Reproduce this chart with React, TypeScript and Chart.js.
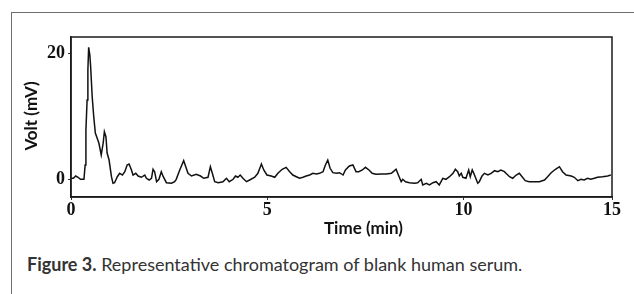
import React, { useEffect, useRef } from "react";
import { Chart, registerables } from "chart.js";

Chart.register(...registerables);

// Retention time (min)
const timeMin = [
  0.01, 0.06, 0.12, 0.18, 0.24, 0.33, 0.36, 0.38, 0.41, 0.43, 0.45, 0.48, 0.5, 0.54, 0.58, 0.62,
  0.71, 0.77, 0.82, 0.85, 0.89, 0.92, 0.97, 1.03, 1.07, 1.11, 1.18, 1.24, 1.31, 1.37, 1.43, 1.48,
  1.54, 1.58, 1.65, 1.71, 1.79, 1.88, 1.92, 1.99, 2.05, 2.09, 2.13, 2.18, 2.24, 2.3, 2.35, 2.43,
  2.56, 2.64, 2.68, 2.77, 2.87, 2.98, 3.07, 3.19, 3.3, 3.38, 3.49, 3.55, 3.6, 3.66, 3.75, 3.87,
  3.96, 4.03, 4.13, 4.19, 4.25, 4.31, 4.38, 4.47, 4.55, 4.68, 4.76, 4.85, 4.91, 4.99, 5.1, 5.19,
  5.27, 5.38, 5.48, 5.57, 5.65, 5.74, 5.82, 5.91, 5.99, 6.08, 6.16, 6.25, 6.33, 6.42, 6.48, 6.54,
  6.6, 6.67, 6.76, 6.84, 6.93, 6.99, 7.09, 7.18, 7.26, 7.33, 7.42, 7.5, 7.59, 7.67, 7.77, 7.9,
  8.03, 8.16, 8.21, 8.28, 8.35, 8.41, 8.45, 8.52, 8.62, 8.75, 8.83, 8.92, 8.96, 9.05, 9.13, 9.22,
  9.3, 9.38, 9.47, 9.55, 9.64, 9.73, 9.79, 9.85, 9.89, 9.94, 9.98, 10.06, 10.13, 10.17, 10.22, 10.26,
  10.32, 10.36, 10.4, 10.47, 10.53, 10.62, 10.7, 10.79, 10.87, 10.95, 11.04, 11.08, 11.17, 11.25, 11.34, 11.42,
  11.49, 11.57, 11.67, 11.8, 11.93, 12.06, 12.14, 12.23, 12.34, 12.44, 12.52, 12.61, 12.74, 12.82, 12.91, 12.99,
  13.07, 13.16, 13.24, 13.33, 13.41, 13.54, 13.67, 13.75,
];

// Detector signal (mV)
const voltMv = [
  0.16, 0.16, 0.52, 0.32, 0.0, 0.0, 2.27, 7.8, 12.6, 17.3, 20.95, 19.7, 17.9, 13.1, 9.9, 7.35,
  5.76, 3.86, 5.76, 7.56, 6.76, 4.17, 3.06, 0.41, -0.63, -0.54, 0.41, 0.95, 0.68, 1.21, 2.27, 2.43,
  1.48, 0.68, 0.95, 0.52, 0.32, 0.68, 0.16, -0.11, 0.16, 1.59, 1.21, -0.38, 0.0, 1.21, 0.41, -0.54,
  -0.63, -0.38, 0.0, 1.48, 2.95, 0.95, 0.52, 0.79, 0.52, 0.16, 0.32, 2.0, 0.95, -0.38, -0.54, -0.38,
  0.16, -0.38, 0.0, 0.52, 0.32, 0.68, 0.16, -0.38, -0.11, 0.32, 0.95, 2.43, 1.48, 0.68, 0.52, 0.32,
  0.95, 1.59, 1.9, 1.21, 0.68, 0.41, 0.16, 0.32, 0.52, 0.68, 0.95, 0.84, 0.95, 1.21, 2.27, 3.06,
  1.75, 1.05, 0.95, 1.05, 0.68, 1.48, 2.11, 2.27, 1.21, 1.21, 1.48, 1.9, 1.48, 0.95, 0.79, 0.84,
  0.84, 0.95, 1.21, 1.59, 0.52, -0.38, 0.0, -0.38, -0.54, -0.63, -0.54, 0.0, -0.9, -0.63, -0.9, -0.54,
  -0.38, -0.9, 0.16, 0.0, 0.41, 0.95, 1.59, 1.21, 0.52, 0.95, 0.32, 0.16, 1.48, 0.41, 1.48, 0.95,
  0.0, -0.63, -0.38, 0.52, 0.95, 0.68, 0.95, 1.37, 1.21, 1.48, 1.21, 0.95, 0.41, 0.16, 0.68, 0.95,
  0.41, -0.22, -0.38, -0.38, -0.38, -0.11, 0.41, 1.05, 1.59, 2.0, 1.21, 0.68, 0.52, 0.32, -0.22, 0.0,
  -0.11, 0.16, 0.0, 0.16, 0.32, 0.41, 0.52, 0.68,
];

// Axis ticks as printed on the figure
const xTickValues = [0, 5, 10, 13.78];
const xTickLabels = ["0", "5", "10", "15"];
const yTickValues = [0, 20];
const yTickLabels = ["0", "20"];

const xRange = [0, 13.78];
const yRange = [-2.81, 22.59];

const xTitle = "Time (min)";
const yTitle = "Volt (mV)";

const tickFont = { family: "Liberation Serif", weight: "bold" as const, size: 18 };
const titleFont = "bold 17px Lato";

const framePlugin = {
  id: "plotFrame",
  afterDraw(chart: any) {
    const { ctx, chartArea: a } = chart;
    ctx.save();
    ctx.strokeStyle = "#1a1a1a";
    ctx.lineWidth = 1.5;
    ctx.strokeRect(a.left, a.top, a.right - a.left, a.bottom - a.top);
    ctx.fillStyle = "#111";
    ctx.font = titleFont;
    ctx.textAlign = "center";
    ctx.textBaseline = "middle";
    ctx.fillText(xTitle, (a.left + a.right) / 2 + 22, a.bottom + 32);
    ctx.translate(a.left - 39, a.top + 79);
    ctx.rotate(-Math.PI / 2);
    ctx.fillText(yTitle, 0, 0);
    ctx.restore();
  },
};

export default function App() {
  const canvasRef = useRef<HTMLCanvasElement | null>(null);

  useEffect(() => {
    const canvas = canvasRef.current;
    if (!canvas) return;
    const points = timeMin.map((t, i) => ({ x: t, y: voltMv[i] }));
    const chart = new Chart(canvas, {
      type: "line",
      data: {
        datasets: [
          {
            data: points,
            borderColor: "#111",
            borderWidth: 1.5,
            pointRadius: 0,
            tension: 0,
            fill: false,
          },
        ],
      },
      options: {
        animation: false,
        responsive: false,
        devicePixelRatio: 1,
        layout: { padding: { left: 21, right: 22, top: 37, bottom: 0 } },
        plugins: { legend: { display: false }, tooltip: { enabled: false }, title: { display: false } },
        scales: {
          x: {
            type: "linear",
            min: xRange[0],
            max: xRange[1],
            afterBuildTicks: (s: any) => {
              s.ticks = xTickValues.map((v) => ({ value: v }));
            },
            afterFit: (s: any) => {
              s.height = 48;
            },
            ticks: {
              autoSkip: false,
              maxRotation: 0,
              padding: 0,
              color: "#111",
              font: tickFont,
              callback: (v: any) => {
                const i = xTickValues.indexOf(Number(v));
                return i >= 0 ? xTickLabels[i] : "";
              },
            },
            grid: { drawOnChartArea: false, drawTicks: true, tickLength: 3, color: "#333" },
            border: { display: true, color: "#1a1a1a", width: 1.5 },
          },
          y: {
            type: "linear",
            min: yRange[0],
            max: yRange[1],
            afterBuildTicks: (s: any) => {
              s.ticks = yTickValues.map((v) => ({ value: v }));
            },
            afterFit: (s: any) => {
              s.width = 50;
            },
            ticks: {
              autoSkip: false,
              padding: 3,
              color: "#111",
              font: tickFont,
              callback: (v: any) => {
                const i = yTickValues.indexOf(Number(v));
                return i >= 0 ? yTickLabels[i] : "";
              },
            },
            grid: { drawOnChartArea: false, drawTicks: true, tickLength: 3, color: "#333" },
            border: { display: true, color: "#1a1a1a", width: 1.5 },
          },
        },
      },
      plugins: [framePlugin],
    });
    return () => chart.destroy();
  }, []);

  return (
    <div style={{ position: "fixed", left: 0, top: 0, width: 634, height: 294, background: "#fff", overflow: "hidden" }}>
      <div
        style={{
          position: "absolute",
          left: 11,
          top: 12,
          width: 640,
          height: 300,
          borderTop: "1.5px solid #6e6e6e",
          borderLeft: "1.5px solid #6e6e6e",
        }}
      />
      <canvas
        ref={canvasRef}
        width={634}
        height={245}
        style={{ position: "absolute", left: 0, top: 0, width: 634, height: 245 }}
      />
      <div
        style={{
          position: "absolute",
          left: 27,
          top: 253,
          fontFamily: "Lato, sans-serif",
          fontSize: 18,
          color: "#333",
          whiteSpace: "nowrap",
          lineHeight: "22px",
        }}
      >
        <b>Figure 3.</b> Representative chromatogram of blank human serum.
      </div>
    </div>
  );
}
